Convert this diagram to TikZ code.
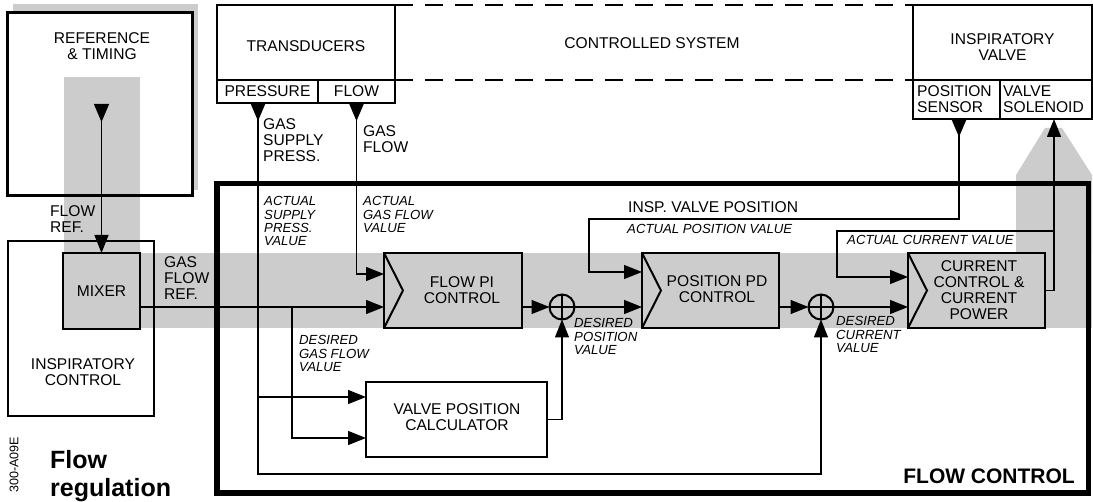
\documentclass[tikz,border=0pt]{standalone}
\usepackage{fontspec}
\setmainfont{Liberation Sans}
\usetikzlibrary{arrows.meta,calc}
\definecolor{bandgray}{gray}{0.8}
\newcommand\nfont{\fontsize{15.6}{15.8}\selectfont}
\newcommand\ifont{\fontsize{13.2}{13.3}\selectfont\itshape}
\begin{document}
\begin{tikzpicture}[x=1pt,y=-1pt,
  box/.style={draw, line width=2.5pt, inner sep=0pt, outer sep=0pt, align=center, font=\nfont},
  blkbox/.style={box, fill=bandgray},
  txt/.style={inner sep=0pt, align=center, font=\nfont},
  ltxt/.style={inner sep=0pt, align=left, anchor=west, font=\nfont},
  itxt/.style={inner sep=0pt, align=left, anchor=west, font=\ifont},
  wire/.style={line width=1.3pt},
  arr/.style={wire, -{Triangle[length=18pt,width=14pt]}},
  sensarr/.style={wire, {Triangle[reversed,length=18pt,width=15pt]}-{Triangle[length=18pt,width=14pt]}},
  sumnode/.style={draw, circle, line width=2pt, minimum size=25pt, inner sep=0pt, outer sep=0pt},
  dashline/.style={line width=1.5pt, dash pattern=on 18pt off 12pt},
]
\useasboundingbox (0,0) rectangle (1093,502);
% ---- gray backgrounds
\fill[bandgray] (13,4) rectangle (198,190);
\fill[white] (7,13) rectangle (192,196);
\fill[bandgray] (64,77) rectangle (140,253);
\fill[bandgray] (140,253) rectangle (1092,328);
\fill[bandgray] (1045,128) -- (1062,128) -- (1092,175) -- (1092,253) -- (1016,253) -- (1016,175) -- cycle;

% ---- coordinates
\coordinate (colP) at (258,0);
\coordinate (colD) at (292,0);
\coordinate (colI) at (589,0);
\coordinate (colAC) at (837,0);
\coordinate (colPS) at (959,0);
\coordinate (colS) at (1054,0);
\coordinate (rowU1) at (0,274);
\coordinate (rowU2) at (0,272);
\coordinate (rowU3) at (0,277);
\coordinate (rowL) at (0,307);
\coordinate (rowIV) at (0,219);
\coordinate (rowAC) at (0,231);
\coordinate (rowV1) at (0,397);
\coordinate (rowV2) at (0,438);
\coordinate (rowB) at (0,474);
\coordinate (refout) at (101.5,104);

% ---- left boxes
\node[box, line width=3pt, minimum width=185pt, minimum height=183pt] (reft) at (99.5,104.5) {};
\node[txt] (reftT) at (102,46) {REFERENCE\\\& TIMING};
\node[box, line width=2pt, minimum width=146pt, minimum height=175pt] (ictl) at (81,328.5) {};
\node[txt] (ictlT) at (83,372) {INSPIRATORY\\CONTROL};
\node[blkbox, line width=2pt, minimum width=77pt, minimum height=76pt] (mixer) at (101.5,291) {MIXER};

% ---- controlled system
\node[box, fill=white, minimum width=178pt, minimum height=75pt] (trans) at (306,42.5) {};
\node[txt] (transT) at (306,46.5) {TRANSDUCERS};
\node[box, fill=white, minimum width=101pt, minimum height=23pt] (press) at (267.5,91.5) {PRESSURE};
\node[box, fill=white, minimum width=77pt, minimum height=23pt] (flows) at (356.5,91.5) {FLOW};
\node[box, fill=white, minimum width=179pt, minimum height=75pt] (ivalve) at (1002.5,42.5) {};
\node[txt] (ivalveT) at (1002.5,47) {INSPIRATORY\\VALVE};
\node[box, fill=white, minimum width=87pt, minimum height=39pt] (psens) at (956.5,99.5) {};
\node[ltxt] (psensT) at (917,99.5) {POSITION\\SENSOR};
\node[box, fill=white, minimum width=92pt, minimum height=39pt] (solen) at (1046,99.5) {};
\node[ltxt] (solenT) at (1003,99.5) {VALVE\\SOLENOID};
\draw[dashline] (trans.north east) -- (trans.north east -| ivalve.west);
\draw[dashline] (trans.south east) -- (trans.south east -| ivalve.west);
\node[txt] (ctrlsys) at (652,43) {CONTROLLED SYSTEM};

% ---- flow control
\node[draw, line width=5.5pt, minimum width=871.5pt, minimum height=309.5pt, inner sep=0pt, outer sep=0pt] (fctl) at (652.75,338.25) {};
\node[inner sep=0pt, anchor=east, font=\fontsize{21}{21}\selectfont\bfseries] (fctlT) at (1075,476) {FLOW CONTROL};

\node[blkbox, minimum width=138pt, minimum height=75pt] (fpi) at (453,290.5) {};
\node[txt] (fpiT) at (462,290.5) {FLOW PI\\CONTROL};
\node[blkbox, minimum width=137pt, minimum height=75pt] (ppd) at (710.5,290.5) {};
\node[txt] (ppdT) at (717,289.5) {POSITION PD\\CONTROL};
\node[blkbox, minimum width=137pt, minimum height=75pt] (cc) at (976.5,290.5) {};
\node[txt] (ccT) at (979,290) {CURRENT\\CONTROL \&\\CURRENT\\POWER};
\node[box, fill=white, minimum width=181pt, minimum height=75pt] (vpc) at (456.5,419.5) {};
\node[txt] (vpcT) at (457,417) {VALVE POSITION\\CALCULATOR};
\foreach \b in {fpi,ppd,cc} \draw[line width=2pt] (\b.north west) -- ($(\b.west)+(19,0)$) -- (\b.south west);

\node[sumnode] (sum1) at (562,307) {};
\node[sumnode] (sum2) at (821,307) {};
\foreach \s in {sum1,sum2} \draw[line width=1.6pt] (\s.north) -- (\s.south) (\s.west) -- (\s.east);

% ---- connectors
\draw[sensarr] (refout) -- (mixer.north);
\draw[sensarr] (press.south -| colP) |- (rowB -| sum2) -- (sum2.south);
\draw[arr] (colP |- rowV1) -- (vpc.west |- rowV1);
\draw[sensarr] (flows.south) |- (fpi.west |- rowU1);
\draw[arr] (mixer.east |- rowL) -- (fpi.west |- rowL);
\draw[arr] (colD |- rowL) |- (vpc.west |- rowV2);
\draw[arr] (fpi.east |- rowL) -- (sum1.west);
\draw[arr] (sum1.east) -- (ppd.west |- rowL);
\draw[arr] (vpc.east) -| (sum1.south);
\draw[arr] (ppd.east |- rowL) -- (sum2.west);
\draw[arr] (sum2.east) -- (cc.west |- rowL);
\draw[arr] (cc.east) -| (solen.south -| colS);
\draw[arr] (colS |- rowAC) -| (colAC |- rowU3) -- (cc.west |- rowU3);
\draw[sensarr] (psens.south -| colPS) |- (colI |- rowIV) |- (ppd.west |- rowU2);

% ---- labels
\node[itxt] (l1) at (264,221.4) {ACTUAL\\SUPPLY\\PRESS.\\VALUE};
\node[itxt] (l2) at (363,214.7) {ACTUAL\\GAS FLOW\\VALUE};
\node[itxt] (l3) at (299,353.5) {DESIRED\\GAS FLOW\\VALUE};
\node[itxt] (l4) at (574,336.5) {DESIRED\\POSITION\\VALUE};
\node[itxt] (l5) at (836,334.5) {DESIRED\\CURRENT\\VALUE};
\node[itxt] (l6) at (627,229) {ACTUAL POSITION VALUE};
\node[itxt] (l7) at (847,240) {ACTUAL CURRENT VALUE};
\node[ltxt] (l8) at (628,207) {INSP. VALVE POSITION};
\node[ltxt] (l9) at (263,140) {GAS\\SUPPLY\\PRESS.};
\node[ltxt] (l10) at (363,139) {GAS\\FLOW};
\node[ltxt] (l11) at (164,278) {GAS\\FLOW\\REF.};
\node[ltxt] (l12) at (50,219) {FLOW\\REF.};
\node[inner sep=0pt, anchor=west, align=left, font=\fontsize{25}{28}\selectfont\bfseries] (title) at (50,476) {Flow\\regulation};
\node[inner sep=0pt, rotate=90, font=\fontsize{12.5}{12.5}\selectfont] (code) at (14,465) {300-A09E};
\end{tikzpicture}
\end{document}
